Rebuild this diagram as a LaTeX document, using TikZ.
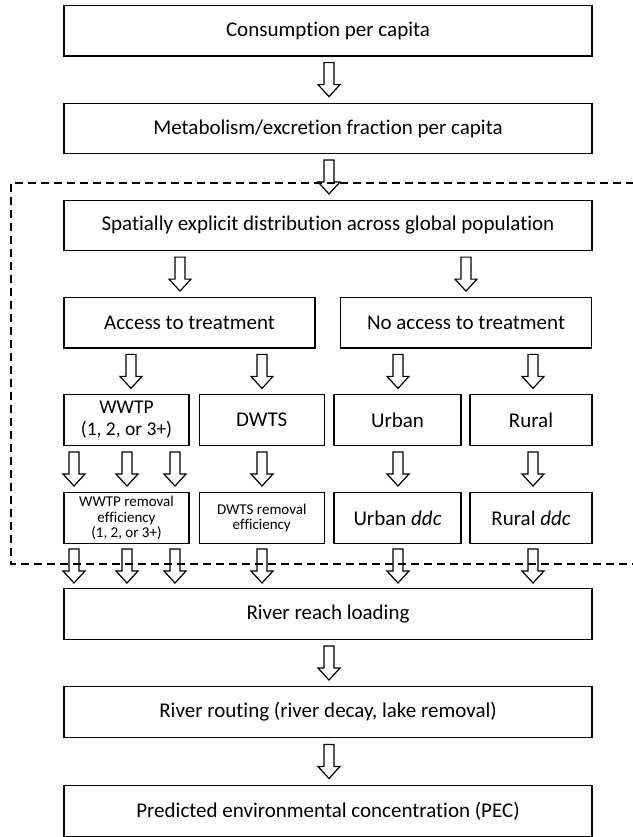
\documentclass[tikz,border=0pt]{standalone}
\usepackage{fontspec}
\setmainfont[Ligatures=NoCommon]{Carlito}
\usetikzlibrary{calc}
\begin{document}
\begin{tikzpicture}[x=1pt,y=-1pt,
  box/.style={draw, line width=1.3pt, inner sep=0pt, align=center, minimum height=50.5pt,
    font=\fontsize{21}{24}\selectfont},
  wide/.style={box, minimum width=528pt},
  half/.style={box, minimum width=251pt},
  quarter/.style={box, minimum width=125pt},
  midtext/.style={font=\fontsize{19.5}{22}\selectfont},
  smalltext/.style={font=\fontsize{15}{15.5}\selectfont},
  region/.style={line width=1.5pt, dash pattern=on 8pt off 5pt},
  downarrow/.pic={\draw[line width=1.2pt, line join=miter]
     (-5,-17) -- (-5,5) -- (-11,5) -- (0,17) -- (11,5) -- (5,5) -- (5,-17) -- cycle;}
]
\useasboundingbox (0,0) rectangle (632,837);

% top chain
\node[wide] (cons) at (328,30.75) {Consumption per capita};
\node[wide] (meta) at (328,128.5) {Metabolism/excretion fraction per capita};
\node[wide] (spat) at (328,225.5) {Spatially explicit distribution across global population};

% access split
\node[half] (acc) at (189.5,322.75) {Access to treatment};
\node[half] (noacc) at (466,322.75) {No access to treatment};

% row 1
\node[quarter, midtext] (wwtp) at (126.5,420) {WWTP\\(1, 2, or 3+)};
\node[quarter] (dwts) at (261.75,420) {DWTS};
\node[quarter, minimum width=127pt] (urban) at (397.5,420) {Urban};
\node[quarter, minimum width=122pt] (rural) at (531,420) {Rural};

% row 2
\node[quarter, smalltext] (wwtpr) at (126.5,518) {WWTP removal\\efficiency\\(1, 2, or 3+)};
\node[quarter, smalltext] (dwtsr) at (261.75,518) {DWTS removal\\efficiency};
\node[quarter, minimum width=127pt] (urbanr) at (397.5,518) {Urban \textit{ddc}};
\node[quarter, minimum width=122pt] (ruralr) at (531,518) {Rural \textit{ddc}};

% bottom chain
\node[wide] (river) at (328,614) {River reach loading};
\node[wide] (rout) at (328,712) {River routing (river decay, lake removal)};
\node[wide] (pec) at (328,811) {Predicted environmental concentration (PEC)};

% x positions for arrows
\coordinate (xc) at (329,0);
\coordinate (xl) at (180,0);
\coordinate (xr) at (466,0);
\coordinate (xw) at (131,0);
\coordinate (xd) at (262,0);
\coordinate (xu) at (398,0);
\coordinate (xru) at (533,0);
\coordinate (xa) at (74,0);
\coordinate (xb) at (127,0);
\coordinate (xcc) at (175,0);

% arrows
\pic at ($(cons.south -| xc)!0.5!(meta.north -| xc)$) {downarrow};
\pic at ($(meta.south -| xc)!0.5!(spat.north -| xc)$) {downarrow};
\pic at ($(spat.south -| xl)!0.5!(acc.north -| xl)$) {downarrow};
\pic at ($(spat.south -| xr)!0.5!(noacc.north -| xr)$) {downarrow};
\pic at ($(acc.south -| xw)!0.5!(wwtp.north -| xw)$) {downarrow};
\pic at ($(acc.south -| xd)!0.5!(dwts.north -| xd)$) {downarrow};
\pic at ($(noacc.south -| xu)!0.5!(urban.north -| xu)$) {downarrow};
\pic at ($(noacc.south -| xru)!0.5!(rural.north -| xru)$) {downarrow};
\foreach \p in {xa,xb,xcc} {
  \pic at ($(wwtp.south -| \p)!0.5!(wwtpr.north -| \p)$) {downarrow};
  \pic at ($(wwtpr.south -| \p)!0.5!(river.north -| \p)$) {downarrow};
}
\pic at ($(dwts.south -| xd)!0.5!(dwtsr.north -| xd)$) {downarrow};
\pic at ($(dwtsr.south -| xd)!0.5!(river.north -| xd)$) {downarrow};
\pic at ($(urban.south -| xu)!0.5!(urbanr.north -| xu)$) {downarrow};
\pic at ($(urbanr.south -| xu)!0.5!(river.north -| xu)$) {downarrow};
\pic at ($(rural.south -| xru)!0.5!(ruralr.north -| xru)$) {downarrow};
\pic at ($(ruralr.south -| xru)!0.5!(river.north -| xru)$) {downarrow};
\pic at ($(river.south -| xc)!0.5!(rout.north -| xc)$) {downarrow};
\pic at ($(rout.south -| xc)!0.5!(pec.north -| xc)$) {downarrow};

% dashed region
\coordinate (dtr) at (660,183);
\coordinate (dtl) at (11,183);
\coordinate (dbl) at (11,564);
\coordinate (dbr) at (660,564);
\draw[region] (dtr) -- (dtl) -- (dbl) -- (dbr);
\end{tikzpicture}
\end{document}
